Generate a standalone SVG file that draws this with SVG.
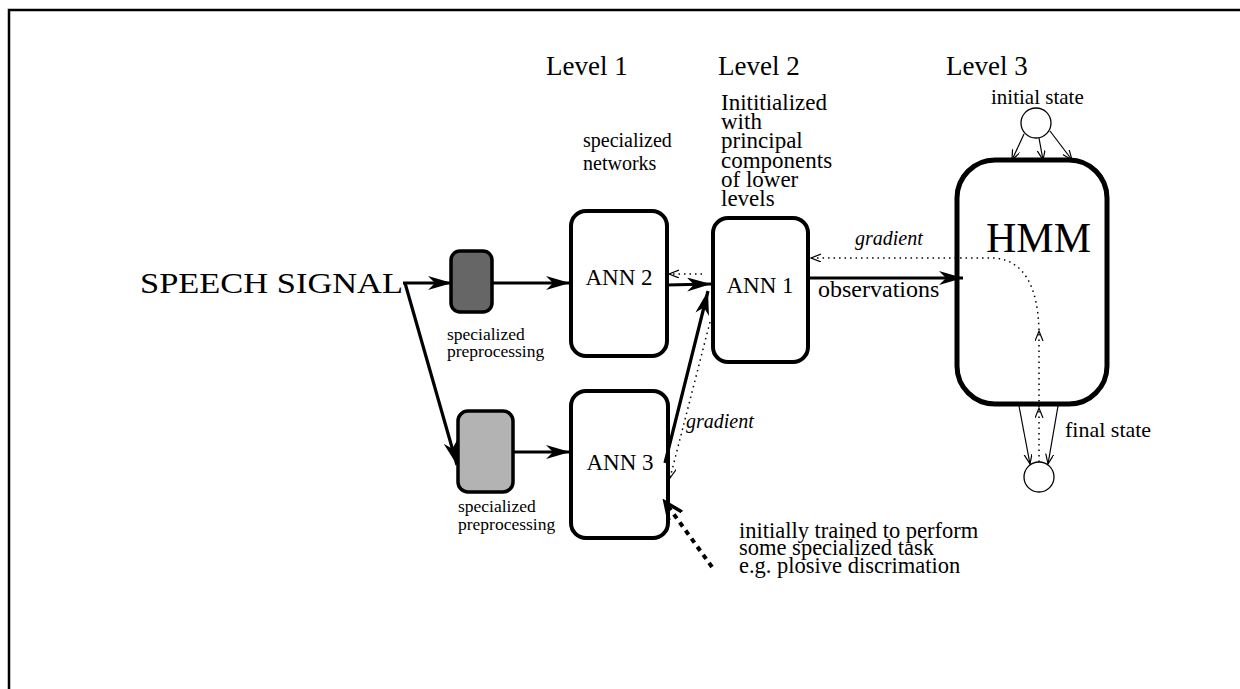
<svg xmlns="http://www.w3.org/2000/svg" width="1240" height="689" viewBox="0 0 1240 689">
<style>
text{font-family:"Liberation Serif","Times New Roman",serif;fill:#000}
.it{font-style:italic}
.box{stroke:#000;stroke-width:4;fill:#fff}
.thick{stroke:#000;stroke-width:3.2;fill:none;marker-end:url(#ah)}
.thin{stroke:#000;stroke-width:1.2;fill:none;marker-end:url(#oh)}
.dot{stroke:#000;stroke-width:1.5;fill:none;stroke-dasharray:1.5 4;marker-end:url(#oh)}
</style>
<defs>
<marker id="ah" markerUnits="userSpaceOnUse" markerWidth="26" markerHeight="16" refX="24" refY="7" orient="auto">
<path d="M0,0 L24,7 L0,14 L7,7 z" fill="#000"/>
</marker>
<marker id="oh" markerUnits="userSpaceOnUse" markerWidth="12" markerHeight="10" refX="10" refY="4" orient="auto">
<path d="M0,0 L10,4 L0,8" fill="none" stroke="#000" stroke-width="1.2"/>
</marker>
<marker id="dh" markerUnits="userSpaceOnUse" markerWidth="22" markerHeight="20" refX="18" refY="9" orient="auto">
<path d="M0,1 L18,9 L0,17" fill="none" stroke="#000" stroke-width="3.5"/>
</marker>
</defs>
<rect width="1240" height="689" fill="#fff"/>
<path d="M9,689 L9,10 L1240,10" fill="none" stroke="#000" stroke-width="2.5"/>

<g id="labels">
<text x="546" y="75" font-size="27">Level 1</text>
<text x="718" y="75" font-size="27">Level 2</text>
<text x="946" y="75" font-size="27">Level 3</text>
<text x="583" y="147" font-size="20">specialized</text>
<text x="583" y="170" font-size="20">networks</text>
<g font-size="23">
<text x="721" y="110">Inititialized</text>
<text x="721" y="129">with</text>
<text x="721" y="148">principal</text>
<text x="721" y="168">components</text>
<text x="721" y="187">of lower</text>
<text x="721" y="206">levels</text>
</g>
<text x="140" y="293" font-size="29" textLength="263" lengthAdjust="spacingAndGlyphs">SPEECH SIGNAL</text>
<text x="447" y="340" font-size="17.5">specialized</text>
<text x="447" y="357" font-size="17.5">preprocessing</text>
<text x="458" y="512" font-size="17.5">specialized</text>
<text x="458" y="530" font-size="17.5">preprocessing</text>
<text x="855" y="245" font-size="20" class="it">gradient</text>
<text x="686" y="428" font-size="20" class="it">gradient</text>
<text x="818" y="297" font-size="24">observations</text>
<g font-size="22.5">
<text x="739" y="538">initially trained to perform</text>
<text x="739" y="555">some specialized task</text>
<text x="739" y="573">e.g. plosive discrimation</text>
</g>
<text x="991" y="104" font-size="21">initial state</text>
<text x="1065" y="437" font-size="22">final state</text>
</g>

<g id="prep1"><rect x="451" y="251" width="41" height="61" rx="9" fill="#666" stroke="#000" stroke-width="3.5"/></g>
<g id="prep2"><rect x="458" y="411" width="55" height="81" rx="10" fill="#b3b3b3" stroke="#000" stroke-width="3.5"/></g>
<g id="ann2"><rect class="box" x="571" y="211" width="96" height="145" rx="15"/><text x="619" y="285" font-size="23" text-anchor="middle">ANN 2</text></g>
<g id="ann3"><rect class="box" x="571" y="391" width="97" height="147" rx="15"/><text x="620" y="470" font-size="23" text-anchor="middle">ANN 3</text></g>
<g id="ann1"><rect class="box" x="713" y="218" width="95" height="144" rx="15"/><text x="760" y="293" font-size="23" text-anchor="middle">ANN 1</text></g>
<g id="hmm"><rect x="957" y="160" width="150" height="244" rx="38" fill="#fff" stroke="#000" stroke-width="5"/><text x="986" y="252" font-size="42">HMM</text></g>
<g id="initial"><circle cx="1036" cy="123" r="15" fill="#fff" stroke="#000" stroke-width="1.3"/></g>
<g id="final"><circle cx="1039" cy="477" r="15" fill="#fff" stroke="#000" stroke-width="1.3"/></g>

<g id="connectors">
<path class="thick" d="M403,283 L452,283"/>
<path class="thick" d="M405,283 L457,465"/>
<path class="thick" d="M492,283 L570,283"/>
<path class="thick" d="M513,452 L570,452"/>
<path class="thick" d="M667,285 L711,284"/>
<path class="thick" d="M665,463 L708,291"/>
<path class="thick" d="M808,278 L963,278"/>
<path class="dot" d="M702,274 L669,274"/>
<path class="dot" d="M710,322 L670,478"/>
<path class="dot" d="M1039,330 Q1037,262 995,258 L811,258"/>
<path class="dot" d="M1039,407 L1039,331"/>
<path class="dot" d="M1039,462 L1039,408"/>
<path d="M712,567 L665,502" fill="none" stroke="#000" stroke-width="4" stroke-dasharray="5 5" marker-end="url(#dh)"/>
<path class="thin" d="M1024,134 L1012,160"/>
<path class="thin" d="M1039,138 L1043,160"/>
<path class="thin" d="M1050,131 L1072,160"/>
<path class="thin" d="M1019,406 L1030,464"/>
<path class="thin" d="M1058,406 L1048,464"/>
</g>
</svg>
